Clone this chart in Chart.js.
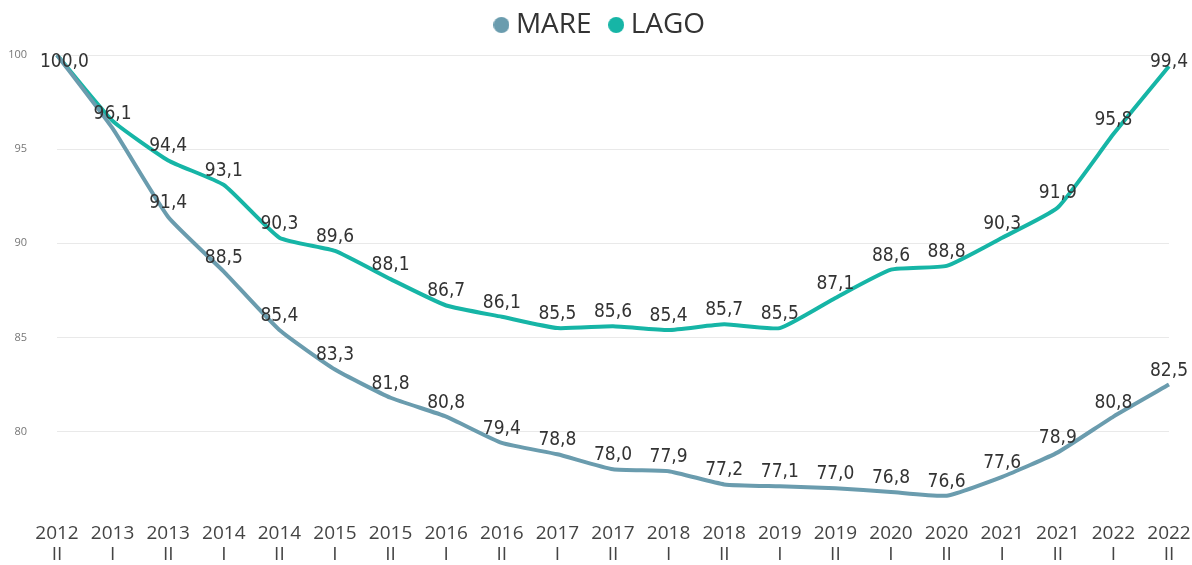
<!DOCTYPE html>
<html>
<head>
<meta charset="utf-8">
<script src="https://cdn.jsdelivr.net/npm/chart.js@4"></script>
<style>
    html, body { margin: 0; padding: 0; background: #fff; }
    #wrap { width: 1192px; height: 565px; }
</style>
</head>
<body>
<div id="wrap"><canvas id="chart"></canvas></div>
<script>
// categorie: anno + semestre
const anni = ['2012', '2013', '2013', '2014', '2014', '2015', '2015', '2016', '2016', '2017', '2017',
              '2018', '2018', '2019', '2019', '2020', '2020', '2021', '2021', '2022', '2022'];
const semestri = ['II', 'I', 'II', 'I', 'II', 'I', 'II', 'I', 'II', 'I', 'II',
                  'I', 'II', 'I', 'II', 'I', 'II', 'I', 'II', 'I', 'II'];

// serie
const mare = [100.0, 96.1, 91.4, 88.5, 85.4, 83.3, 81.8, 80.8, 79.4, 78.8, 78.0,
              77.9, 77.2, 77.1, 77.0, 76.8, 76.6, 77.6, 78.9, 80.8, 82.5];
const lago = [100.0, 96.5, 94.4, 93.1, 90.3, 89.6, 88.1, 86.7, 86.1, 85.5, 85.6,
              85.4, 85.7, 85.5, 87.1, 88.6, 88.8, 90.3, 91.9, 95.8, 99.4];

// tick asse y
const yTicks = [80, 85, 90, 95, 100];

// etichette nascoste (sovrapposte)
const nascostiMare = [0];
const nascostiLago = [1];

const coloreMare = '#6a9cae';
const coloreLago = '#16b5a6';

const labels = anni.map((a, i) => [a, semestri[i]]);

// pallino per la legenda
function pallino(colore) {
    const c = document.createElement('canvas');
    c.width = 16;
    c.height = 16;
    const g = c.getContext('2d');
    g.fillStyle = colore;
    g.beginPath();
    g.arc(8, 8, 8, 0, Math.PI * 2);
    g.fill();
    return c;
}

// etichette dati sopra i punti
const etichette = {
    id: 'etichette',
    afterDatasetsDraw(chart) {
        const ctx = chart.ctx;
        const area = chart.chartArea;
        ctx.save();
        ctx.font = '19px "DejaVu Sans Condensed", "DejaVu Sans", sans-serif';
        ctx.fillStyle = '#333333';
        ctx.textAlign = 'center';
        ctx.textBaseline = 'middle';
        chart.data.datasets.forEach((ds, di) => {
            const meta = chart.getDatasetMeta(di);
            meta.data.forEach((pt, i) => {
                if (ds.nascosti.includes(i)) return;
                const testo = ds.data[i].toFixed(1).replace('.', ',');
                const w = ctx.measureText(testo).width;
                let x = pt.x;
                if (x - w / 2 < 40) x = 40 + w / 2;
                if (x + w / 2 > 1188) x = 1188 - w / 2;
                const y = Math.max(pt.y - 14, area.top + 7);
                ctx.fillText(testo, x, y);
            });
        });
        ctx.restore();
    }
};

// legenda: altezza fissa e spostata in alto
const legendaAlta = {
    id: 'legendaAlta',
    beforeInit(chart) {
        const fit = chart.legend.fit;
        chart.legend.fit = function () {
            fit.bind(chart.legend)();
            this.height = 55;
        };
    },
    afterLayout(chart) {
        chart.legend.top -= 13;
        chart.legend.left += 7;
        chart.legend.right += 7;
    }
};

const ctx = document.getElementById('chart').getContext('2d');
new Chart(ctx, {
    type: 'line',
    data: {
        labels: labels,
        datasets: [
            {
                label: 'MARE',
                data: mare,
                nascosti: nascostiMare,
                borderColor: coloreMare,
                backgroundColor: coloreMare,
                pointStyle: pallino(coloreMare),
                borderWidth: 4,
                pointRadius: 0,
                tension: 0.15
            },
            {
                label: 'LAGO',
                data: lago,
                nascosti: nascostiLago,
                borderColor: coloreLago,
                backgroundColor: coloreLago,
                pointStyle: pallino(coloreLago),
                borderWidth: 4,
                pointRadius: 0,
                tension: 0.15
            }
        ]
    },
    options: {
        responsive: true,
        maintainAspectRatio: false,
        animation: false,
        layout: {
            padding: { left: 0, right: 0, top: 0, bottom: 0 }
        },
        scales: {
            x: {
                offset: false,
                grid: { display: false, drawTicks: false },
                border: { display: false },
                afterFit(scale) {
                    scale.height = 58;
                    scale.paddingLeft = 0;
                    scale.paddingRight = 23;
                },
                ticks: {
                    autoSkip: false,
                    maxRotation: 0,
                    padding: 16,
                    color: '#444444',
                    font: { family: '"Open Sans", "Noto Sans", sans-serif', size: 19, lineHeight: 1.12 }
                }
            },
            y: {
                min: 76,
                max: 100,
                afterBuildTicks(scale) {
                    scale.ticks = yTicks.map(v => ({ value: v }));
                },
                afterFit(scale) {
                    scale.width = 57;
                },
                grid: { color: '#e9e9e9', lineWidth: 1, drawTicks: false },
                border: { display: false },
                ticks: {
                    padding: 30,
                    color: '#777777',
                    font: { family: '"Open Sans", "Noto Sans", sans-serif', size: 11 }
                }
            }
        },
        plugins: {
            legend: {
                position: 'top',
                labels: {
                    usePointStyle: true,
                    boxHeight: 11,
                    pointStyleWidth: 1,
                    padding: 24,
                    color: '#333333',
                    font: { family: '"Open Sans", "Noto Sans", sans-serif', size: 28 }
                }
            },
            tooltip: { enabled: false }
        }
    },
    plugins: [legendaAlta, etichette]
});
</script>
</body>
</html>
